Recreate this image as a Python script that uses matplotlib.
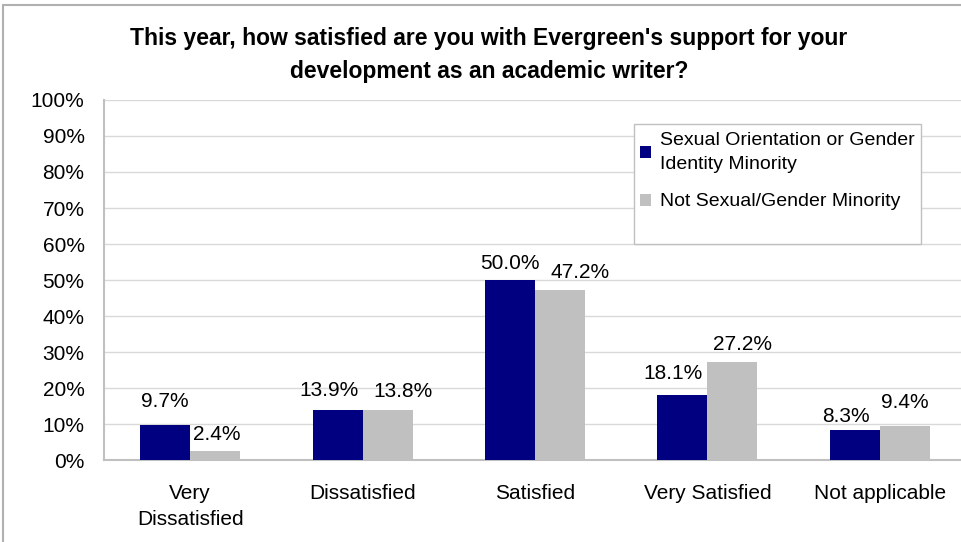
import matplotlib.pyplot as plt
import numpy as np
from matplotlib.patches import Rectangle

plt.rcParams['font.family'] = ['Liberation Sans', 'DejaVu Sans']

categories = ["Very\nDissatisfied", "Dissatisfied", "Satisfied", "Very Satisfied", "Not applicable"]
minority = [9.7, 13.9, 50.0, 18.1, 8.3]
not_minority = [2.4, 13.8, 47.2, 27.2, 9.4]
series_names = ["Sexual Orientation or Gender\nIdentity Minority", "Not Sexual/Gender Minority"]

# label nudges in pixels (dx, gap above bar to baseline), as placed in the original
minority_nudge = [(0, 18), (-9, 14), (0, 11), (-9, 16), (-9, 8)]
not_minority_nudge = [(2, 11), (15, 13), (20, 12), (10, 12), (0, 18)]

W, H = 961, 542
fig = plt.figure(figsize=(W / 100, H / 100), dpi=100)
# outer chart frame
fig.patches.append(Rectangle((3 / W, -0.1), 1.1, (H - 5) / H + 0.1,
                             transform=fig.transFigure, fill=False,
                             edgecolor="#b0b0b0", linewidth=1.5))

ax = fig.add_axes([104 / W, 82 / H, 862 / W, 360 / H])
x = np.arange(len(categories))
w = 0.29
b1 = ax.bar(x - w / 2, minority, w, color="#000080", label=series_names[0], zorder=3)
b2 = ax.bar(x + w / 2, not_minority, w, color="#c0c0c0", label=series_names[1], zorder=3)

for bars, vals, nudge in ((b1, minority, minority_nudge), (b2, not_minority, not_minority_nudge)):
    for r, v, (dx, gap) in zip(bars, vals, nudge):
        ax.annotate(f"{v:.1f}%", (r.get_x() + r.get_width() / 2, v),
                    xytext=(dx, gap), textcoords="offset pixels",
                    ha="center", va="baseline", fontsize=15, zorder=6)

ax.set_xlim(-0.5, 4.5)
ax.set_ylim(0, 100)
ax.set_yticks(range(0, 101, 10))
ax.set_yticklabels([f"{v}%" for v in range(0, 101, 10)], fontsize=15)
ax.set_xticks(x)
ax.set_xticklabels(categories, fontsize=15, linespacing=1.5)
ax.tick_params(axis="both", length=0)
ax.tick_params(axis="y", pad=14)
ax.tick_params(axis="x", pad=17)
ax.yaxis.grid(True, color="#d9d9d9", linewidth=1, zorder=0)
for s in ("top", "right"):
    ax.spines[s].set_visible(False)
for s in ("left", "bottom"):
    ax.spines[s].set_color("#c0c0c0")
    ax.spines[s].set_linewidth(1.5)

fig.text(489 / W, 1 - 55 / H,
         "This year, how satisfied are you with Evergreen's support for your\ndevelopment as an academic writer?",
         ha="center", va="center", fontsize=16.5, fontweight="bold", linespacing=1.6)

# legend box
ax.add_patch(Rectangle((634 / W, 1 - 244 / H), 287 / W, 120 / H,
                       transform=fig.transFigure, facecolor="white",
                       edgecolor="#c0c0c0", linewidth=1, zorder=4, clip_on=False))
leg = ax.legend(loc="upper left", bbox_to_anchor=(636 / W, 1 - 128 / H),
                bbox_transform=fig.transFigure, fontsize=14, frameon=False,
                handlelength=0.57, handleheight=0.57, handletextpad=0.45,
                borderaxespad=0, borderpad=0.2, labelspacing=1.05)
leg.set_zorder(5)
for t in leg.get_texts():
    t.set_linespacing(1.55)

fig.savefig("out.png", dpi=100)
